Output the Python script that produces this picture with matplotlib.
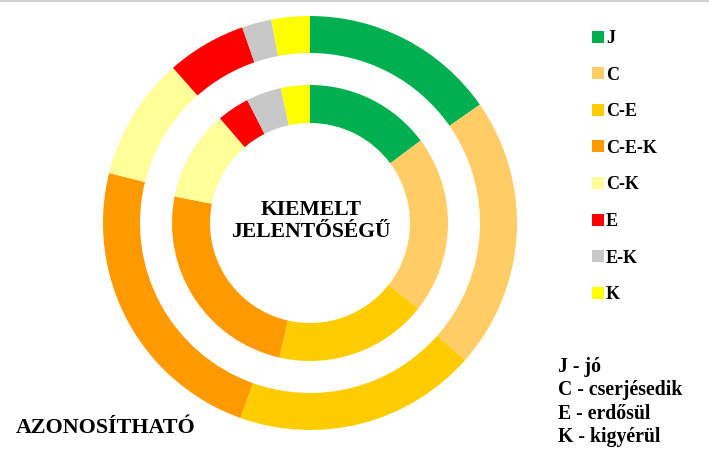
import matplotlib
matplotlib.use("Agg")
import matplotlib.pyplot as plt
from matplotlib.lines import Line2D

categories = ["J", "C", "C-E", "C-E-K", "C-K", "E", "E-K", "K"]
outer_values = [15.3, 21.2, 18.9, 23.4, 9.6, 6.2, 2.3, 3.0]   # AZONOSÍTHATÓ
inner_values = [14.8, 20.8, 17.9, 24.5, 10.6, 3.8, 4.1, 3.4]  # KIEMELT JELENTŐSÉGŰ
colors = ["#00B050", "#FFCC66", "#FFCC00", "#FF9900", "#FFFF99", "#FF0000", "#C8C8C8", "#FFFF00"]
outer_label = "AZONOSÍTHATÓ"
inner_label = "KIEMELT\nJELENTŐSÉGŰ"
key_lines = ["J - jó", "C - cserjésedik", "E - erdősül", "K - kigyérül"]

W, H = 709, 453
fig = plt.figure(figsize=(W / 100, H / 100), dpi=100)
plt.rcParams['font.family'] = ['Liberation Serif', 'DejaVu Serif']

cx, cy, R = 310, 223, 207
ax = fig.add_axes([(cx - R) / W, (H - cy - R) / H, 2 * R / W, 2 * R / H])
ax.axis("off")

wedges_o, _ = ax.pie(outer_values, colors=colors, radius=1.0, startangle=90,
                     counterclock=False, wedgeprops=dict(width=37 / R, linewidth=0))
wedges_i, _ = ax.pie(inner_values, colors=colors, radius=138 / R, startangle=90,
                     counterclock=False, wedgeprops=dict(width=38 / R, linewidth=0))
ax.set_xlim(-1, 1)
ax.set_ylim(-1, 1)

fig.text(311 / W, 1 - 221 / H, inner_label, ha="center", va="center",
         fontsize=15.6, fontweight="bold", linespacing=1.1)
fig.text(16 / W, 1 - 433 / H, outer_label, ha="left", va="baseline",
         fontsize=15.8, fontweight="bold")

for i, line in enumerate(key_lines):
    fig.text(558 / W, 1 - (372 + i * 23.4) / H, line, ha="left", va="baseline",
             fontsize=14.2, fontweight="bold")

handles = [Line2D([], [], marker="s", linestyle="none", markersize=8,
                  markerfacecolor=c, markeredgewidth=0) for c in colors]
leg = fig.legend(handles, categories, loc="upper left",
                 bbox_to_anchor=(592 / W, 1 - 30 / H), frameon=False,
                 prop=dict(family="Liberation Serif", weight="bold", size=13),
                 handlelength=0.62, handletextpad=0.15, labelspacing=1.085,
                 borderpad=0, borderaxespad=0)

fig.add_artist(Line2D([0, 1], [1 - 0.8 / H, 1 - 0.8 / H], transform=fig.transFigure,
                      color="#D0D0D0", linewidth=1.5))

fig.savefig("out.png", dpi=100, facecolor="white")
